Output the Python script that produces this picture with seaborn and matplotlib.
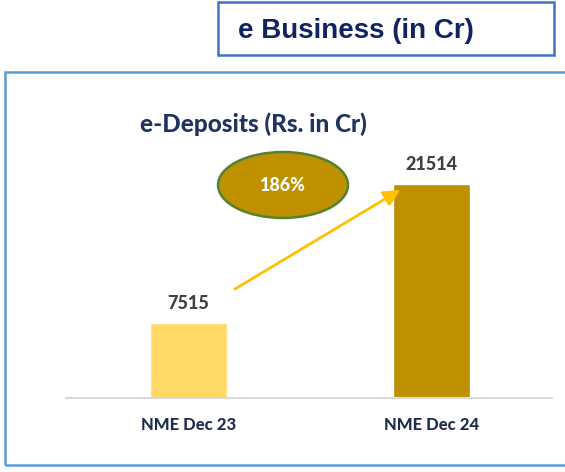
import matplotlib
matplotlib.use("Agg")
import matplotlib.pyplot as plt
import seaborn as sns
import pandas as pd
from matplotlib.patches import Ellipse, Rectangle

categories = ["NME Dec 23", "NME Dec 24"]
values = [7515, 21514]
bar_colors = ["#FFD966", "#BF9000"]
growth_label = "186%"
chart_title = "e-Deposits (Rs. in Cr)"
header_title = "e Business (in Cr)"

sns.set_theme(style="white")
plt.rcParams["font.family"] = ["Lato", "DejaVu Sans"]
BOLD = "black"

W, H = 565, 472
fig = plt.figure(figsize=(W / 100, H / 100), dpi=100)
fig.patch.set_facecolor("white")

def fx(px):
    return px / W

def fy(py):
    return 1 - py / H

# header box
fig.patches.append(Rectangle((fx(218), fy(55)), fx(554) - fx(218), fy(2) - fy(55),
                             transform=fig.transFigure, fill=False,
                             edgecolor="#4472C4", linewidth=1.8))
fig.text(fx(356), fy(31), header_title, ha="center", va="center",
         fontsize=20, fontweight="bold", color="#0F2460",
         family=["Liberation Sans", "DejaVu Sans"])

# main box
fig.patches.append(Rectangle((fx(5), fy(465)), fx(580) - fx(5), fy(72) - fy(465),
                             transform=fig.transFigure, fill=False,
                             edgecolor="#5B9BD5", linewidth=1.8, clip_on=False))

ax_left, ax_right = 66, 552
ax_top, ax_bottom = 130, 398
ax = fig.add_axes([fx(ax_left), fy(ax_bottom), fx(ax_right) - fx(ax_left), fy(ax_top) - fy(ax_bottom)])

df = pd.DataFrame({"cat": categories, "val": values})
sns.barplot(data=df, x="cat", y="val", hue="cat", palette=bar_colors,
            width=0.317, legend=False, ax=ax, saturation=1)

px_per_unit = 214 / 21514
ax.set_ylim(0, (ax_bottom - ax_top) / px_per_unit)
ax.set_xlim(-(188.5 - ax_left) / 243, 1 + (ax_right - 431.5) / 243)

for s in ["top", "right", "left"]:
    ax.spines[s].set_visible(False)
ax.spines["bottom"].set_color("#D9D9D9")
ax.spines["bottom"].set_linewidth(1.5)
ax.set_yticks([])
ax.set_xlabel("")
ax.set_ylabel("")
ax.tick_params(axis="x", length=0, pad=14)
for lbl in ax.get_xticklabels():
    lbl.set_fontsize(12)
    lbl.set_fontweight(BOLD)
    lbl.set_color("#1F2D50")

for i, v in enumerate(values):
    ax.annotate(str(v), (i, v), xytext=(0, 8), textcoords="offset points",
                ha="center", va="bottom", fontsize=13, fontweight=BOLD,
                color="#404040")

# title
fig.text(fx(253), fy(124), chart_title, ha="center", va="center",
         fontsize=17.5, fontweight=BOLD, color="#1F3360")

# ellipse with growth
def dx(px):
    return (px - 188.5) / 243

def dy(py):
    return (ax_bottom - py) / px_per_unit

ell = Ellipse((dx(283), dy(185)), width=130 / 243, height=66 / px_per_unit,
              facecolor="#BF9000", edgecolor="#548235", linewidth=1.8, clip_on=False)
ax.add_patch(ell)
ax.text(dx(283), dy(186), growth_label, ha="center", va="center",
        fontsize=13, fontweight=BOLD, color="white")

# arrow
ax.annotate("", xy=(dx(400), dy(190)), xytext=(dx(235), dy(289)),
            arrowprops=dict(arrowstyle="-|>,head_length=0.8,head_width=0.4",
                            color="#FFC000", lw=2, shrinkA=0, shrinkB=0),
            annotation_clip=False)

fig.savefig("out.png", dpi=100)
